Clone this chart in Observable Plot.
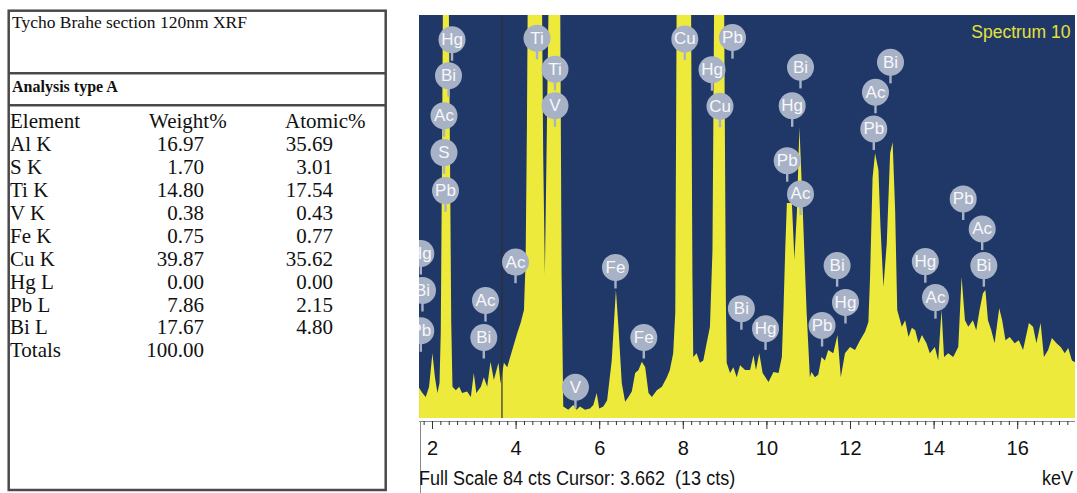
<!DOCTYPE html>
<html><head><meta charset="utf-8">
<script src="https://cdn.jsdelivr.net/npm/d3@7"></script>
<script src="https://cdn.jsdelivr.net/npm/@observablehq/plot@0.6"></script>
<style>
body{margin:0;background:#fff;}
#wrap{position:relative;width:1077px;height:493px;overflow:hidden;background:#fff;}
#table{position:absolute;left:0;top:0;}
#chart{position:absolute;left:410px;top:0;}
.info{position:absolute;font-family:"Liberation Sans",Arial,sans-serif;font-size:20px;line-height:20px;color:#111;white-space:pre;}
</style></head><body>
<div id="wrap">
<svg id="table" width="400" height="493"></svg>
<div id="chart"></div>
<div style="position:absolute;left:420px;top:421px;width:1px;height:72px;background:#8a8a8a"></div>
<div class="info" id="fullscale" style="left:419px;top:468px;transform:scaleX(0.9);transform-origin:left top;"></div>
<div class="info" id="kev" style="left:1042px;top:468px;transform:scaleX(0.9);transform-origin:left top;"></div>
</div>
<script>
// ---------- table data ----------
const tableTitle = "Tycho Brahe section 120nm XRF";
const analysisType = "Analysis type A";
const colHeaders = ["Element", "Weight%", "Atomic%"];
const elements = ["Al K", "S K", "Ti K", "V K", "Fe K", "Cu K", "Hg L", "Pb L", "Bi L"];
const weightPct = ["16.97", "1.70", "14.80", "0.38", "0.75", "39.87", "0.00", "7.86", "17.67"];
const atomicPct = ["35.69", "3.01", "17.54", "0.43", "0.77", "35.62", "0.00", "2.15", "4.80"];
const totalsLabel = "Totals";
const totalsWeight = "100.00";

// ---------- spectrum data (keV, counts) ----------
const specKeV = [1.69,1.77,1.85,1.93,2.01,2.07,2.13,2.18,2.21,2.24,2.27,2.39,2.43,2.46,2.49,2.57,2.65,2.72,2.84,2.93,
3.00,3.06,3.17,3.24,3.32,3.40,3.48,3.59,3.64,3.72,3.80,3.92,4.04,4.12,4.20,4.24,4.27,4.30,4.62,4.66,
4.70,4.74,4.81,5.06,5.10,5.14,5.26,5.38,5.46,5.54,5.66,5.78,5.86,5.94,6.00,6.10,6.19,6.30,6.40,6.46,
6.54,6.62,6.70,6.78,6.86,6.94,7.02,7.10,7.18,7.26,7.38,7.50,7.62,7.69,7.77,7.82,7.86,8.19,8.23,8.25,
8.33,8.41,8.49,8.57,8.65,8.71,8.76,8.98,9.03,9.05,9.13,9.21,9.29,9.37,9.49,9.61,9.69,9.75,9.83,9.91,
10.05,10.17,10.29,10.37,10.41,10.45,10.49,10.61,10.67,10.73,10.79,10.84,10.90,10.96,11.04,11.08,11.16,11.24,11.32,11.40,
11.48,11.60,11.70,11.78,11.88,12.00,12.12,12.24,12.36,12.44,12.48,12.54,12.60,12.68,12.73,12.80,12.88,12.96,13.02,13.08,
13.13,13.24,13.32,13.40,13.48,13.56,13.64,13.72,13.83,13.91,14.03,14.11,14.19,14.25,14.35,14.47,14.59,14.67,14.75,14.83,
14.94,15.02,15.10,15.18,15.24,15.30,15.38,15.46,15.57,15.64,15.72,15.82,15.94,16.04,16.14,16.28,16.38,16.46,16.56,16.64,
16.74,16.83,16.94,17.04,17.14,17.22,17.31,17.41];
const specCts = [6.3,5.2,4.4,6.5,13.5,8.5,5.2,7.3,18,55,100,100,55,20,6.5,5.8,6.5,5.2,5.5,4.4,
9.4,5.2,6.5,8.5,6.5,11.7,7.9,11.5,7.3,11.5,10.6,14.2,17.7,19.8,22.5,33,60,100,100,55,
30,55,100,100,30,2.4,1.7,2.7,1.7,2.4,1.7,2.0,2.7,5.2,2.0,2.4,3.7,12,26.7,19,
7.3,3.4,4.4,5.5,9.4,10,11.7,10.6,5.2,4.4,5.8,6.5,8.5,10,13.5,22,100,100,30,12.7,
13.5,11.5,12,15.6,19,35,100,100,25,11.5,9.4,10.6,8.5,11,10,10,13.1,10,13.5,9.4,
7.5,9.6,9.4,12.7,23,35,44.8,44.8,33,43,60.6,50,36.4,22.5,8.5,9.6,8.5,9,12.7,12,
14.2,13.5,17.3,8.5,13.5,14.8,14.2,16.2,18,20,29.4,50,55.2,51.7,39.8,27.3,36.5,55.2,57.5,43.3,
22.5,19,20.4,16.9,18.8,18.3,15.6,17.3,15.6,13.5,14.8,12,22.5,12.7,13.5,12.7,14.8,29.4,20.4,19,
20.4,18.3,22.5,26,26.7,20.4,18.3,15.6,22.9,20.4,16.2,16.9,15.6,16.2,14.2,19.8,19,15.6,19.8,12.7,
14.2,16.7,15.6,14.8,13.5,14.6,12,11.5];

// ---------- peak label balloons ----------
const labelEl  = ["Hg","Bi","Ac","S","Pb","Ti","Ti","V","Cu","Pb","Hg","Cu","Bi","Hg","Pb","Ac","Bi","Ac","Pb","Pb","Ac","Bi","Hg","Ac","Bi","Hg","Pb","Hg","Bi","Fe","Fe","V","Ac","Ac","Bi","Hg","Bi","Pb"];
const labelKeV = [2.467,2.383,2.275,2.275,2.311,4.50,4.93,4.93,8.036,9.177,8.687,8.878,10.804,10.605,10.486,10.804,12.957,12.598,12.557,14.696,15.151,15.19,13.79,14.033,11.68,11.88,11.32,9.967,9.39,6.378,7.055,5.42,3.986,3.268,3.227,1.72,1.76,1.72];
const labelCts = [78.96,71.46,63.13,55.42,47.5,79.27,72.8,65.2,79.1,79.4,72.7,65.1,73.2,65.2,53.75,46.8,74.25,68.0,60.35,45.77,39.5,31.87,32.7,25.2,31.87,24.2,19.4,18.7,22.9,31.5,16.9,6.5,32.6,24.6,16.9,34.4,26.7,18.3];

// ---------- axis / annotation ----------
const majorTicks = [2,4,6,8,10,12,14,16];
const minorTicks = d3.range(1.8, 17.39, 0.2).map(v => +v.toFixed(1));
const spectrumName = "Spectrum 10";
const fullScaleText = "Full Scale 84 cts Cursor: 3.662  (13 cts)";
const unitText = "keV";
const cursorKeV = 3.662;
const fullScale = 84;

const BLUE = "#1f3868";
const YELLOW = "#eeea3c";
const BALLOON = "#a8b2c6";

// ---------- table drawing ----------
const t = d3.select("#table");
const serif = "'Liberation Serif','Times New Roman',serif";
t.append("rect").attr("x", 8.7).attr("y", 10.7).attr("width", 377).attr("height", 479.3)
  .attr("fill", "none").attr("stroke", "#4a4a4a").attr("stroke-width", 2.5);
[73.3, 105.3].forEach(y => t.append("line").attr("x1", 8.7).attr("x2", 385.7).attr("y1", y).attr("y2", y)
  .attr("stroke", "#4a4a4a").attr("stroke-width", 2.5));
t.append("text").attr("x", 12).attr("y", 27.7).attr("font-family", serif).attr("font-size", 17.5).attr("fill", "#111").text(tableTitle);
t.append("text").attr("x", 12).attr("y", 91.7).attr("font-family", serif).attr("font-size", 16).attr("font-weight", "bold").attr("fill", "#111").text(analysisType);
const rowY = i => 128.3 + i * 22.9;
const cell = (x, y, s, anchor) => t.append("text").attr("x", x).attr("y", y).attr("text-anchor", anchor)
  .attr("font-family", serif).attr("font-size", 21).attr("fill", "#111").text(s);
cell(10, rowY(0), colHeaders[0], "start");
cell(149, rowY(0), colHeaders[1], "start");
cell(285, rowY(0), colHeaders[2], "start");
elements.forEach((e, i) => {
  cell(10, rowY(i + 1), e, "start");
  cell(204, rowY(i + 1), weightPct[i], "end");
  cell(333, rowY(i + 1), atomicPct[i], "end");
});
cell(10, rowY(elements.length + 1), totalsLabel, "start");
cell(204, rowY(elements.length + 1), totalsWeight, "end");

// ---------- spectrum chart ----------
const spectrum = specKeV.map((k, i) => ({keV: k, cts: specCts[i]}));
const balloons = labelEl.map((el, i) => ({el, keV: labelKeV[i], cts: labelCts[i]}));
const xDomain = [1.689, 17.383];

const chart = Plot.plot({
  width: 667, height: 493,
  marginLeft: 9, marginRight: 2, marginTop: 15, marginBottom: 72,
  x: {domain: xDomain, label: null},
  y: {domain: [-0.625, fullScale], axis: null, label: null},
  style: {background: "transparent", fontFamily: "'Liberation Sans', Arial, sans-serif", overflow: "visible"},
  marks: [
    Plot.rect([0], {x1: xDomain[0], x2: xDomain[1], y1: 0, y2: fullScale, fill: BLUE}),
    Plot.areaY(spectrum, {x: "keV", y: "cts", fill: YELLOW, curve: "linear", clip: true}),
    Plot.ruleX([cursorKeV], {y1: 0, y2: fullScale, stroke: "#2e2e2e", strokeWidth: 1.2}),
    Plot.ruleX(balloons, {x: "keV", y1: d => d.cts - 2.6, y2: d => d.cts - 4.5, stroke: BALLOON, strokeWidth: 2.4, clip: true}),
    Plot.dot(balloons, {x: "keV", y: "cts", r: 13.5, fill: BALLOON, stroke: null, clip: true}),
    Plot.text(balloons, {x: "keV", y: "cts", text: "el", fill: "#f6f7fb", fontSize: 17, clip: true}),
    Plot.text([spectrumName], {frameAnchor: "top-right", dx: -5, dy: 10, lineAnchor: "top", fill: "#e6e23a", fontSize: 17.5}),
    Plot.ruleY([-0.625], {stroke: "#8a8a8a", strokeWidth: 1}),
    Plot.axisX(minorTicks, {tickSize: 4, text: null, stroke: "#333", label: null}),
    Plot.axisX(majorTicks, {tickSize: 8, tickPadding: 11, fontSize: 20, fill: "#111", stroke: "#333", label: null})
  ]
});
document.getElementById("chart").appendChild(chart);
document.getElementById("fullscale").textContent = fullScaleText;
document.getElementById("kev").textContent = unitText;
</script>
</body></html>
